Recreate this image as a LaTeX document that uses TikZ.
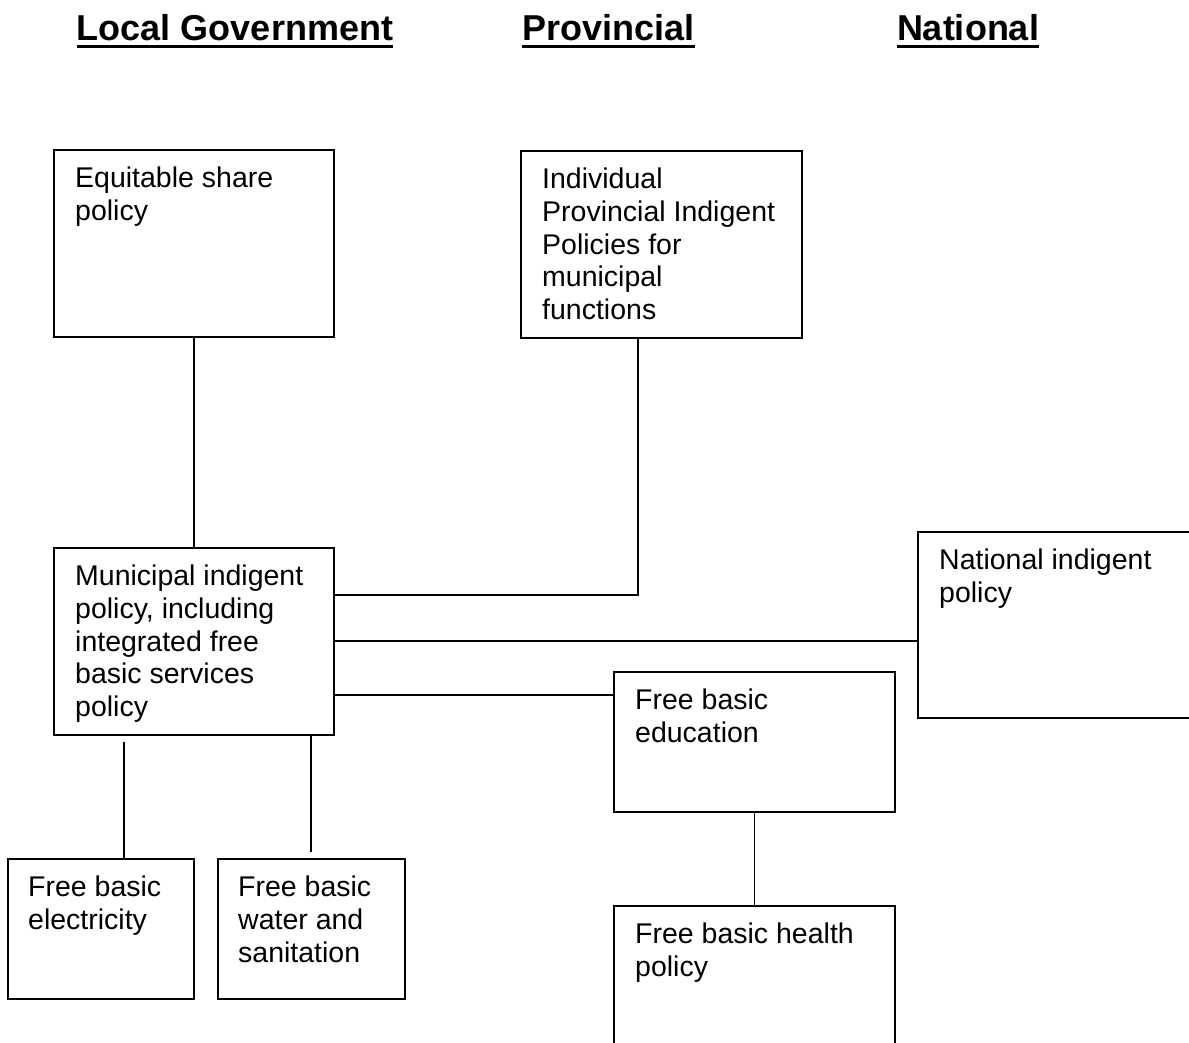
\documentclass[tikz,border=0pt]{standalone}
\usepackage{fontspec}
\setmainfont{Liberation Sans}
\begin{document}
\begin{tikzpicture}[x=1pt,y=-1pt,
  box/.style={draw, line width=1.6pt, inner sep=0pt, outer sep=0pt, anchor=north west},
  txt/.style={anchor=north west, inner sep=0pt, align=left, font=\fontsize{28.5}{32.6}\selectfont},
  head/.style={anchor=base, inner sep=0pt, font=\bfseries\fontsize{36}{40}\selectfont},
  conn/.style={line width=1.6pt}]
\useasboundingbox (0,0) rectangle (1189,1043);
\clip (0,0) rectangle (1189,1043);
\fill[white] (0,0) rectangle (1189,1043);

% headers
\node[head] (hl) at (235,41) {Local Government};
\node[head] (hp) at (608.5,41) {Provincial};
\node[head] (hn) at (968,41) {National};
\foreach \h in {hl,hp,hn}
  \draw[line width=3pt] ([yshift=-5.5pt]\h.base west) -- ([yshift=-5.5pt]\h.base east);

% boxes
\node[box, minimum width=280, minimum height=187] (eq) at (54,150) {};
\node[box, minimum width=281, minimum height=187] (prov) at (521,151) {};
\node[box, minimum width=280, minimum height=187] (muni) at (54,548) {};
\node[box, minimum width=320, minimum height=186] (nat) at (918,532) {};
\node[box, minimum width=281, minimum height=140] (edu) at (614,672) {};
\node[box, minimum width=281, minimum height=200] (health) at (614,906) {};
\node[box, minimum width=186, minimum height=140] (elec) at (8,859) {};
\node[box, minimum width=187, minimum height=140] (water) at (218,859) {};

% texts
\node[txt] (teq) at ([shift={(21,17)}]eq.north west) {Equitable share\\policy};
\node[txt] (tprov) at ([shift={(21,17)}]prov.north west) {Individual\\Provincial Indigent\\Policies for\\municipal\\functions};
\node[txt] (tmuni) at ([shift={(21,17)}]muni.north west) {Municipal indigent\\policy, including\\integrated free\\basic services\\policy};
\node[txt] (tnat) at ([shift={(21,17)}]nat.north west) {National indigent\\policy};
\node[txt] (tedu) at ([shift={(21,17)}]edu.north west) {Free basic\\education};
\node[txt] (thealth) at ([shift={(21,17)}]health.north west) {Free basic health\\policy};
\node[txt] (telec) at ([shift={(20,17)}]elec.north west) {Free basic\\electricity};
\node[txt] (twater) at ([shift={(20,17)}]water.north west) {Free basic\\water and\\sanitation};

% connectors
\draw[conn] (eq.south) -- (muni.north);
\draw[conn] (638,0 |- prov.south) |- (muni.east |- 0,595);
\draw[conn] (muni.east |- 0,641) -- (nat.west |- 0,641);
\draw[conn] (muni.east |- 0,695) -- (edu.west |- 0,695);
\draw[conn] (edu.south) -- (health.north);
\coordinate (eTop) at (124,742);
\draw[conn] (eTop |- elec.north) -- (eTop);
\coordinate (wBot) at (311,852);
\draw[conn] (wBot |- muni.south) -- (wBot);
\end{tikzpicture}
\end{document}
